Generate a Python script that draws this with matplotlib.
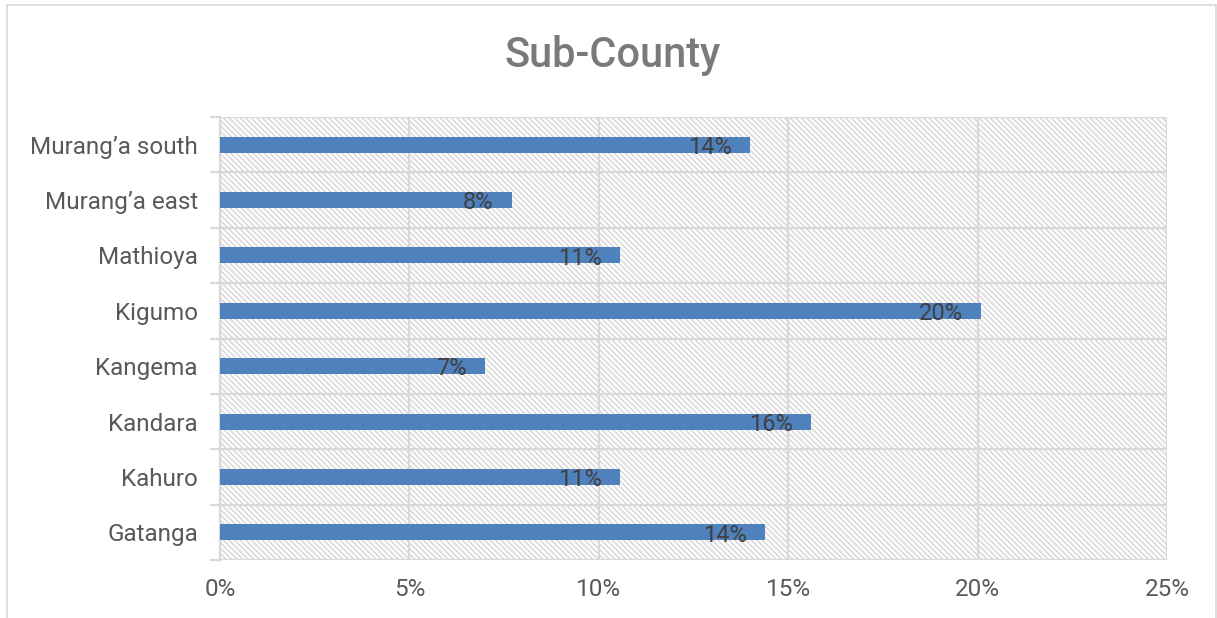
import matplotlib
matplotlib.use("Agg")
import matplotlib.pyplot as plt
from matplotlib.patches import Rectangle
import numpy as np

plt.rcParams['font.family'] = ['Roboto', 'DejaVu Sans']
plt.rcParams['hatch.linewidth'] = 1.2

# sub-counties, bottom to top
sub_counties = ["Gatanga", "Kahuro", "Kandara", "Kangema", "Kigumo",
                "Mathioya", "Murang\u2019a east", "Murang\u2019a south"]
shares = [14.4, 10.55, 15.6, 7.0, 20.1, 10.55, 7.7, 14.0]
x_ticks = [0, 5, 10, 15, 20, 25]

grid_col = "#d9d9d9"
text_col = "#595959"

fig = plt.figure(figsize=(12.17, 6.18), dpi=100)
ax = fig.add_axes([220 / 1217, 1 - 560 / 618, 947 / 1217, 443 / 618])

# chart outline
fig.patches.append(Rectangle((7 / 1217, -0.05), 1209 / 1217, 1.05 - 5 / 618,
                             transform=fig.transFigure, fill=False,
                             edgecolor=grid_col, linewidth=1.2))

y = np.arange(len(sub_counties))
ax.set_xlim(0, 25)
ax.set_ylim(-0.5, len(sub_counties) - 0.5)

# striped plot background
ax.add_patch(Rectangle((0, -0.5), 25, len(sub_counties), hatch='\\\\\\\\\\\\',
                       fill=False, edgecolor="#dadada", linewidth=0, zorder=0))

ax.barh(y, shares, height=0.29, color="#4f81bd", zorder=3)

for yi, v in zip(y, shares):
    ax.annotate(f"{round(v + 1e-9)}%", xy=(v, yi), xytext=(-13, -2), textcoords="offset points",
                ha="right", va="center", fontsize=17, color="#404040", zorder=4)

ax.set_xticks(x_ticks)
ax.set_xticklabels([f"{t}%" for t in x_ticks])
ax.set_yticks(y)
ax.set_yticklabels(sub_counties)
ax.set_yticks(np.arange(-0.5, len(sub_counties), 1.0), minor=True)

ax.grid(axis="x", which="major", color=grid_col, linewidth=1.6, zorder=1)
ax.grid(axis="y", which="minor", color=grid_col, linewidth=1.6, zorder=1)
ax.set_axisbelow(True)

ax.tick_params(axis="y", which="major", length=0, pad=16, labelsize=17.5, labelcolor=text_col)
ax.tick_params(axis="y", which="minor", length=7, width=1.6, color=grid_col)
ax.tick_params(axis="x", length=0, pad=13, labelsize=17.5, labelcolor=text_col)

for side in ["top", "right", "bottom"]:
    ax.spines[side].set_visible(False)
ax.spines["left"].set_color(grid_col)
ax.spines["left"].set_linewidth(1.6)

fig.text(0.503, 1 - 56 / 618, "Sub-County", ha="center", va="center",
         fontsize=30, fontweight="medium", color="#7a7a7a")

fig.savefig("out.png", dpi=100)
